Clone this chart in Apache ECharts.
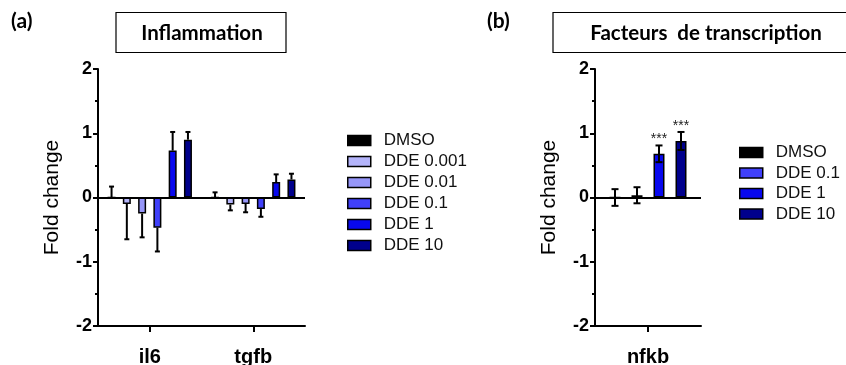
<!DOCTYPE html>
<html>
<head>
<meta charset="utf-8">
<script src="https://cdn.jsdelivr.net/npm/echarts@6/dist/echarts.min.js"></script>
<style>html,body{margin:0;padding:0;background:#fff}#c{width:846px;height:365px}</style>
</head>
<body>
<div id="c"></div>
<script>
// ---- data ----
const categoriesA = ['il6', 'tgfb'];
const categoriesB = ['nfkb'];
const seriesNamesA = ['DMSO', 'DDE 0.001', 'DDE 0.01', 'DDE 0.1', 'DDE 1', 'DDE 10'];
const seriesNamesB = ['DMSO', 'DDE 0.1', 'DDE 1', 'DDE 10'];
const il6Mean = [0, -0.10, -0.25, -0.47, 0.73, 0.90];
const il6Sem = [0.17, 0.55, 0.37, 0.37, 0.29, 0.12];
const tgfbMean = [0, -0.11, -0.10, -0.18, 0.24, 0.28];
const tgfbSem = [0.08, 0.09, 0.13, 0.12, 0.12, 0.09];
const nfkbMean = [0, 0.035, 0.68, 0.88];
const nfkbSem = [0.13, 0.125, 0.13, 0.14];
const nfkbStars = ['', '', '***', '***'];
const yTicks = [-2, -1, 0, 1, 2];
const titleA = 'Inflammation';
const titleB = 'Facteurs  de transcription';
const yName = 'Fold change';

// ---- styles ----
const colorMap = {
  'DMSO': '#000000',
  'DDE 0.001': '#b4b4fa',
  'DDE 0.01': '#9696f8',
  'DDE 0.1': '#4040fa',
  'DDE 1': '#0808ee',
  'DDE 10': '#00008c'
};
const FONT = 'Liberation Sans, Arial, sans-serif';
const TFONT = 'Lato, sans-serif';
const barWA = 8, gapA = 0.91, barWB = 11, gapB = 1.0;

const chart = echarts.init(document.getElementById('c'), null, {renderer: 'canvas'});

function yAxisCfg(gridIndex) {
  return {
    gridIndex: gridIndex, type: 'value', min: -2, max: 2, interval: 1,
    name: yName, nameLocation: 'middle', nameGap: 35,
    nameTextStyle: {fontFamily: FONT, fontSize: 21, color: '#000'},
    axisLine: {show: true, lineStyle: {color: '#000', width: 2}},
    axisTick: {show: true, length: 5, lineStyle: {color: '#000', width: 2}},
    minorTick: {show: true, splitNumber: 2, length: 3, lineStyle: {color: '#000', width: 2}},
    splitLine: {show: false},
    axisLabel: {fontFamily: FONT, fontSize: 18, fontWeight: 'bold', color: '#000', margin: 6,
      formatter: v => yTicks.includes(v) ? String(v) : ''}
  };
}
function xAxisCfg(gridIndex, cats) {
  return {
    gridIndex: gridIndex, type: 'category', data: cats, position: 'bottom',
    axisLine: {show: true, onZero: false, lineStyle: {color: '#000', width: 2}},
    axisTick: {show: true, alignWithLabel: true, length: 6, lineStyle: {color: '#000', width: 2}},
    axisLabel: {fontFamily: FONT, fontSize: 20, fontWeight: 'bold', color: '#000', margin: 21}
  };
}

const series = [];
seriesNamesA.forEach((name, i) => {
  series.push({
    type: 'bar', name: name, xAxisIndex: 0, yAxisIndex: 0,
    data: [il6Mean[i], tgfbMean[i]],
    barWidth: barWA, barGap: (gapA * 100) + '%',
    itemStyle: {color: colorMap[name], borderColor: '#000', borderWidth: 1.5},
    silent: true, z: 2,
    markLine: i === 0 ? {symbol: 'none', silent: true, label: {show: false},
      lineStyle: {color: '#000', width: 2, type: 'solid'}, data: [{yAxis: 0}]} : undefined
  });
});
seriesNamesB.forEach((name, i) => {
  series.push({
    type: 'bar', name: name, xAxisIndex: 1, yAxisIndex: 1,
    data: [nfkbMean[i]],
    barWidth: barWB, barGap: (gapB * 100) + '%',
    itemStyle: {color: colorMap[name], borderColor: '#000', borderWidth: 1.5},
    silent: true, z: 2,
    markLine: i === 0 ? {symbol: 'none', silent: true, label: {show: false},
      lineStyle: {color: '#000', width: 2, type: 'solid'}, data: [{yAxis: 0}]} : undefined
  });
});

const errA = [];
seriesNamesA.forEach((n, i) => {
  errA.push([0, il6Mean[i], il6Sem[i], i]);
  errA.push([1, tgfbMean[i], tgfbSem[i], i]);
});
const errB = seriesNamesB.map((n, i) => [0, nfkbMean[i], nfkbSem[i], i]);
const errStars = {errB: nfkbStars};

function makeErr(nSeries, barW, gap, capHalf, twoSided) {
  return function (params, api) {
    const cat = api.value(0), m = api.value(1), s = api.value(2), idx = api.value(3);
    const off = (idx - (nSeries - 1) / 2) * barW * (1 + gap);
    let lo, hi;
    if (twoSided) { lo = m - s; hi = m + s; }
    else if (m >= 0) { lo = m; hi = m + s; }
    else { lo = m - s; hi = m; }
    const pHi = api.coord([cat, hi]);
    const pLo = api.coord([cat, lo]);
    const x = pHi[0] + off;
    const style = {stroke: '#000', lineWidth: 2};
    const children = [
      {type: 'line', shape: {x1: x, y1: pHi[1], x2: x, y2: pLo[1]}, style: style}
    ];
    if (twoSided || m >= 0) children.push({type: 'line', shape: {x1: x - capHalf, y1: pHi[1], x2: x + capHalf, y2: pHi[1]}, style: style});
    if (twoSided || m < 0) children.push({type: 'line', shape: {x1: x - capHalf, y1: pLo[1], x2: x + capHalf, y2: pLo[1]}, style: style});
    const star = (errStars[params.seriesName] || [])[params.dataIndex];
    if (star) {
      children.push({type: 'text', style: {text: star, x: x, y: pHi[1] + 1, align: 'center', verticalAlign: 'bottom',
        fill: '#222', font: '14px ' + FONT}});
    }
    return {type: 'group', children: children};
  };
}
series.push({type: 'custom', name: 'errA', xAxisIndex: 0, yAxisIndex: 0, data: errA, z: 5, silent: true,
  encode: {x: 0, y: 1}, renderItem: makeErr(6, barWA, gapA, 2.5, false)});
series.push({type: 'custom', name: 'errB', xAxisIndex: 1, yAxisIndex: 1, data: errB, z: 5, silent: true,
  encode: {x: 0, y: 1}, renderItem: makeErr(4, barWB, gapB, 3.5, true)});

const legendCommon = {
  orient: 'vertical', icon: 'rect', itemWidth: 23, itemHeight: 10, itemGap: 4,
  selectedMode: false,
  itemStyle: {borderColor: '#000', borderWidth: 1.5},
  textStyle: {fontFamily: FONT, fontSize: 17, color: '#111', lineHeight: 17, padding: [0, 0, 0, 8]}
};

chart.setOption({
  animation: false,
  backgroundColor: '#fff',
  grid: [
    {left: 98, right: 541, top: 69, bottom: 39, containLabel: false, outerBoundsMode: 'none'},
    {left: 595, right: 145, top: 69, bottom: 39, containLabel: false, outerBoundsMode: 'none'}
  ],
  xAxis: [xAxisCfg(0, categoriesA), xAxisCfg(1, categoriesB)],
  yAxis: [yAxisCfg(0), yAxisCfg(1)],
  legend: [
    Object.assign({}, legendCommon, {left: 342, top: 127, data: seriesNamesA}),
    Object.assign({}, legendCommon, {left: 734, top: 139, itemGap: 3.5, data: seriesNamesB})
  ],
  graphic: [
    {type: 'text', left: 11, top: 11, style: {text: '(a)', font: 'bold 21px ' + TFONT, fill: '#000'}},
    {type: 'text', left: 487, top: 11, style: {text: '(b)', font: 'bold 21px ' + TFONT, fill: '#000'}},
    {type: 'rect', shape: {x: 116, y: 12.5, width: 170, height: 40}, style: {fill: '#fff', stroke: '#000', lineWidth: 1.2}},
    {type: 'text', x: 202, y: 33, style: {text: titleA, font: 'bold 20.5px ' + TFONT, fill: '#000', align: 'center', verticalAlign: 'middle'}},
    {type: 'rect', shape: {x: 553, y: 12.5, width: 306, height: 40}, style: {fill: '#fff', stroke: '#000', lineWidth: 1.2}},
    {type: 'text', x: 706, y: 33, style: {text: titleB, font: 'bold 20.5px ' + TFONT, fill: '#000', align: 'center', verticalAlign: 'middle'}}
  ],
  series: series
});
</script>
</body>
</html>
